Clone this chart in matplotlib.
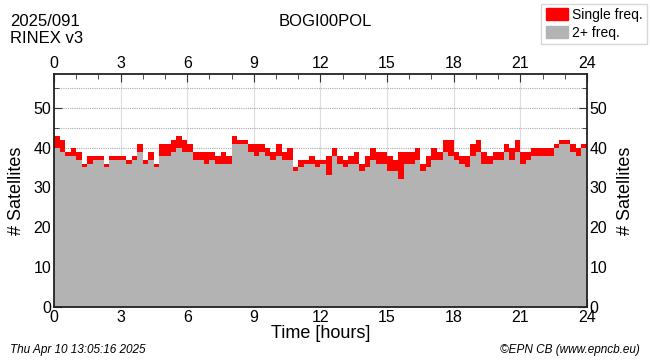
"""Satellite tracking plot: single vs dual-frequency counts over the day."""

import matplotlib

matplotlib.use("Agg")
import matplotlib.pyplot as plt
from matplotlib.patches import Patch
from matplotlib.ticker import MultipleLocator

plt.rcParams["font.family"] = ["Liberation Sans", "DejaVu Sans"]

# quarter-hour samples, 0 .. 24 h
hours = [i * 0.25 for i in range(97)]

total = [
    43, 42, 39, 40, 39, 36, 38, 38, 38, 36, 38, 38,
    38, 37, 38, 41, 37, 39, 36, 41, 41, 42, 43, 42,
    41, 39, 39, 39, 39, 38, 39, 38, 43, 42, 42, 41,
    41, 41, 40, 39, 41, 39, 40, 35, 37, 37, 38, 37,
    37, 38, 40, 38, 37, 38, 39, 36, 38, 40, 39, 39,
    38, 37, 39, 39, 39, 40, 36, 38, 40, 39, 42, 42,
    39, 38, 38, 41, 42, 39, 38, 39, 39, 41, 40, 42,
    39, 39, 40, 40, 40, 40, 41, 42, 42, 41, 40, 41,
    43,
]

dual = [
    40, 39, 38, 38, 37, 35, 36, 37, 37, 35, 37, 37,
    37, 36, 37, 39, 36, 37, 35, 38, 38, 39, 40, 39,
    39, 37, 37, 36, 37, 36, 36, 36, 41, 41, 41, 39,
    38, 39, 38, 37, 38, 37, 37, 34, 35, 36, 36, 35,
    36, 33, 38, 36, 35, 36, 36, 34, 35, 37, 36, 36,
    34, 34, 32, 36, 36, 37, 34, 35, 37, 37, 39, 38,
    37, 36, 35, 38, 39, 36, 36, 37, 37, 39, 37, 39,
    36, 37, 38, 38, 38, 38, 40, 41, 41, 39, 38, 40,
    41,
]

RED = "#ff0000"
GREY = "#b3b3b3"


def main():
    fig = plt.figure(figsize=(6.5, 3.62), dpi=100)
    ax = fig.add_axes([0.083, 0.152, 0.820, 0.644])

    ax.fill_between(hours, 0, dual, step="post", color=GREY, lw=0, zorder=2)
    ax.fill_between(hours, dual, total, step="post", color=RED, lw=0, zorder=2)

    ax.set_xlim(0, 24)
    ax.set_ylim(0, 58.5)
    ax.xaxis.set_major_locator(MultipleLocator(3))
    ax.xaxis.set_minor_locator(MultipleLocator(1))
    ax.yaxis.set_major_locator(MultipleLocator(10))
    ax.yaxis.set_minor_locator(MultipleLocator(5))

    ax.grid(axis="x", which="major", color="#dddddd", lw=0.8, zorder=1)
    ax.grid(axis="y", which="both", color="#aaaaaa", lw=0.8, ls=(0, (1, 1)), zorder=1)

    ax.tick_params(which="both", direction="in", top=True, right=True,
                   labeltop=True, labelright=True, labelsize=11.5, color="#333333", pad=2)
    ax.tick_params(which="major", length=6)
    ax.tick_params(which="minor", length=3.5)
    for s in ax.spines.values():
        s.set_color("#222222")
        s.set_linewidth(1.3)

    ax.set_xlabel("Time [hours]", fontsize=13, labelpad=0)
    ax.set_ylabel("# Satellites", fontsize=13, labelpad=6)
    fig.text(0.962, 0.474, "# Satellites", fontsize=13, rotation=90,
             ha="center", va="center")

    fig.text(0.016, 0.94, "2025/091", fontsize=12, va="center")
    fig.text(0.016, 0.895, "RINEX v3", fontsize=12, va="center")
    fig.text(0.50, 0.94, "BOGI00POL", fontsize=12, ha="center", va="center")

    handles = [Patch(color=RED, label="Single freq."), Patch(color=GREY, label="2+ freq.")]
    fig.legend(handles=handles, loc="upper right", bbox_to_anchor=(0.995, 0.99),
               fontsize=10, frameon=True, fancybox=False, edgecolor="#cccccc",
               borderpad=0.3, handlelength=1.6, handleheight=1.0, handletextpad=0.3,
               labelspacing=0.3, borderaxespad=0)

    fig.text(0.016, 0.033, "Thu Apr 10 13:05:16 2025", fontsize=8.5, style="italic", va="center")
    fig.text(0.984, 0.033, "\u00a9EPN CB (www.epncb.eu)", fontsize=8.5, style="italic",
             ha="right", va="center")

    fig.savefig("out.png", dpi=100)


if __name__ == "__main__":
    main()
